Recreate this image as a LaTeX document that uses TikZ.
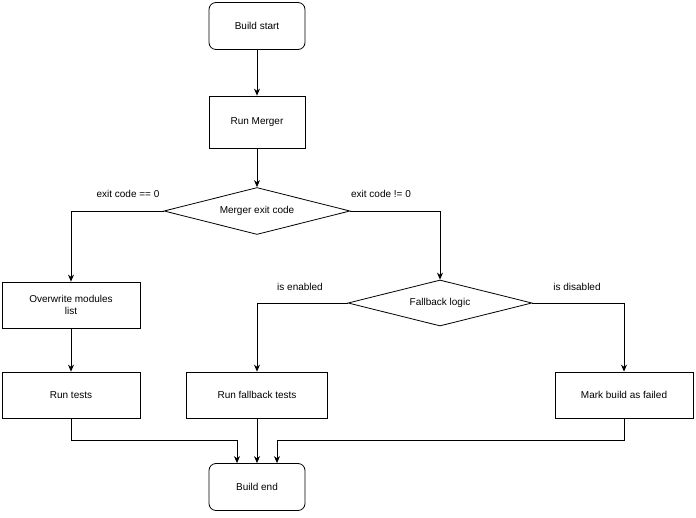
\documentclass[tikz,border=0pt]{standalone}
\usepackage{fontspec}
\setmainfont{Liberation Sans}
\usetikzlibrary{shapes.geometric,arrows.meta}
\begin{document}
\begin{tikzpicture}[x=1pt,y=-1pt,
  every node/.style={font=\fontsize{10}{12}\selectfont},
  box/.style={draw,thick,minimum width=138pt,minimum height=46pt,align=center,inner sep=2pt},
  rbox/.style={draw,thick,rounded corners=7pt,minimum width=96pt,minimum height=47pt},
  dia/.style={draw,thick,diamond,aspect=4,minimum width=186pt,minimum height=47pt,inner sep=0pt},
  arr/.style={thick,-{Stealth[length=7pt,width=6pt]}},
  lbl/.style={font=\fontsize{10}{12}\selectfont}]
\useasboundingbox (0,0) rectangle (696,518);
\node[rbox] (start) at (257,26) {Build start};
\node[draw,thick,minimum width=96pt,minimum height=52pt] (merger) at (257,122) {Run Merger};
\node[dia] (d1) at (257,211) {Merger exit code};
\node[box] (over) at (71,305) {Overwrite modules\\list};
\node[box] (tests) at (71,395) {Run tests};
\node[dia,minimum width=184pt,minimum height=46pt] (d2) at (440,303) {Fallback logic};
\node[box,minimum width=141pt] (fb) at (257,395) {Run fallback tests};
\node[box] (fail) at (624,395) {Mark build as failed};
\node[rbox] (end) at (257,487) {Build end};
\coordinate (e1) at (237,440);
\coordinate (e3) at (277,440);
\draw[arr] (start) -- (merger);
\draw[arr] (merger) -- (d1);
\draw[arr] (d1.west) -| (over.north);
\draw[arr] (d1.east) -| (d2.north);
\draw[arr] (over) -- (tests);
\draw[arr] (d2.west) -| (fb.north);
\draw[arr] (d2.east) -| (fail.north);
\draw[arr] (tests.south) |- (e1) -- (e1 |- end.north);
\draw[arr] (fb) -- (end);
\draw[arr] (fail.south) |- (e3) -- (e3 |- end.north);
\node[lbl] (l1) at (128,194) {exit code == 0};
\node[lbl] (l2) at (381,194) {exit code != 0};
\node[lbl] (l3) at (300,287) {is enabled};
\node[lbl] (l4) at (577,287) {is disabled};
\end{tikzpicture}
\end{document}
